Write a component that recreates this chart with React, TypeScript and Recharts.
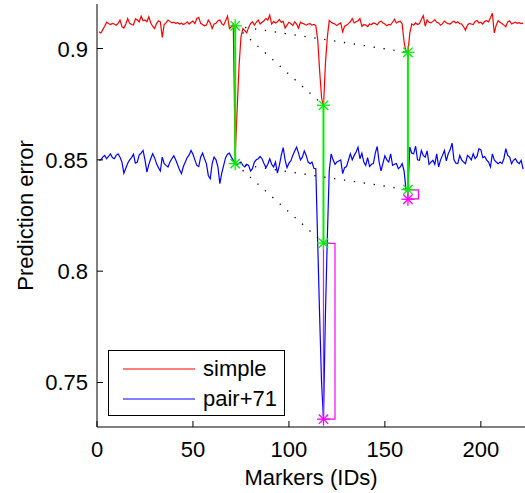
import { ComposedChart, Line, XAxis, YAxis, Legend, Label } from "recharts";

const xTicks = [0, 50, 100, 150, 200];
const yTicks = [0.75, 0.8, 0.85, 0.9];
const seriesNames = ["simple", "pair+71"];

// prediction error per marker ID (1..222)
const simpleError = [
  0.9075, 0.907, 0.9085, 0.91, 0.9118, 0.9112, 0.9108, 0.9113, 0.911, 0.9105,
  0.9113, 0.9128, 0.9098, 0.9092, 0.911, 0.9135, 0.9113, 0.9108, 0.9106, 0.9133,
  0.9128, 0.912, 0.9145, 0.9125, 0.9128, 0.912, 0.9142, 0.9115, 0.91, 0.909,
  0.9112, 0.9125, 0.912, 0.905, 0.9108, 0.9115, 0.9128, 0.9122, 0.9115, 0.9118,
  0.9113, 0.9116, 0.911, 0.9114, 0.9108, 0.9112, 0.912, 0.911, 0.9118, 0.9123,
  0.9112, 0.9135, 0.914, 0.9113, 0.9108, 0.9102, 0.9105, 0.9128, 0.9115, 0.909,
  0.911, 0.9113, 0.9125, 0.9128, 0.9112, 0.9105, 0.9125, 0.9145, 0.909, 0.9098,
  0.9108, 0.852, 0.872, 0.892, 0.905, 0.909, 0.908, 0.907, 0.9095, 0.9112,
  0.912, 0.9105, 0.9118, 0.9128, 0.911, 0.9118, 0.9125, 0.9135, 0.9128, 0.915,
  0.911, 0.9122, 0.9115, 0.912, 0.913, 0.9118, 0.9122, 0.9092, 0.9105, 0.9118,
  0.9112, 0.9103, 0.912, 0.911, 0.9092, 0.9118, 0.9113, 0.911, 0.9105, 0.911,
  0.9112, 0.9105, 0.9108, 0.9103, 0.904, 0.89, 0.878, 0.874, 0.893, 0.905,
  0.9126, 0.9118, 0.9113, 0.911, 0.9103, 0.911, 0.9115, 0.9075, 0.91, 0.9105,
  0.9112, 0.912, 0.9135, 0.9115, 0.912, 0.9125, 0.9135, 0.91, 0.9108, 0.9105,
  0.9098, 0.911, 0.9108, 0.9115, 0.9112, 0.9106, 0.9118, 0.9123, 0.9115, 0.911,
  0.9102, 0.9108, 0.9106, 0.9118, 0.9132, 0.9115, 0.912, 0.9123, 0.911, 0.903,
  0.8985, 0.8983, 0.907, 0.911, 0.9105, 0.9115, 0.9108, 0.9112, 0.913, 0.9148,
  0.91, 0.9128, 0.9118, 0.9115, 0.9122, 0.913, 0.9118, 0.9115, 0.9105, 0.9112,
  0.9123, 0.9116, 0.9112, 0.911, 0.9118, 0.9123, 0.9115, 0.912, 0.9112, 0.911,
  0.9098, 0.9082, 0.9105, 0.9113, 0.911, 0.9108, 0.9122, 0.9126, 0.9115, 0.9118,
  0.911, 0.9122, 0.9125, 0.912, 0.9138, 0.9158, 0.907, 0.9105, 0.9125, 0.9118,
  0.9112, 0.9105, 0.9098, 0.912, 0.9125, 0.911, 0.9115, 0.9118, 0.9113, 0.9116,
  0.9112, 0.9114,
];

const pairError = [
  0.8498, 0.85, 0.8512, 0.852, 0.8505, 0.8515, 0.8527, 0.851, 0.8505, 0.852,
  0.8527, 0.8512, 0.849, 0.844, 0.8462, 0.8485, 0.85, 0.851, 0.8525, 0.8485,
  0.849, 0.8522, 0.853, 0.8542, 0.85, 0.8445, 0.848, 0.8505, 0.8527, 0.851,
  0.8483, 0.8465, 0.845, 0.8512, 0.8483, 0.8475, 0.8468, 0.849, 0.8505, 0.8518,
  0.85, 0.8478, 0.8455, 0.8438, 0.847, 0.849, 0.851, 0.8522, 0.8542, 0.8525,
  0.85, 0.8475, 0.847, 0.8512, 0.853, 0.8505, 0.8483, 0.843, 0.8415, 0.8483,
  0.8512, 0.85, 0.8468, 0.8393, 0.844, 0.8475, 0.851, 0.8525, 0.853, 0.8512,
  0.8498, 0.8483, 0.8478, 0.8485, 0.849, 0.8475, 0.8468, 0.848, 0.8475, 0.845,
  0.846, 0.849, 0.85, 0.8505, 0.8515, 0.8505, 0.8483, 0.8465, 0.848, 0.8505,
  0.848, 0.8468, 0.849, 0.844, 0.8475, 0.852, 0.8555, 0.85, 0.8465, 0.8485,
  0.8495, 0.852, 0.854, 0.8557, 0.853, 0.85, 0.8512, 0.854, 0.852, 0.849,
  0.8483, 0.849, 0.8462, 0.846, 0.8125, 0.78, 0.75, 0.7335, 0.78, 0.815,
  0.845, 0.8527, 0.85, 0.848, 0.849, 0.8495, 0.85, 0.8438, 0.8465, 0.847,
  0.8498, 0.8527, 0.85, 0.852, 0.8535, 0.8557, 0.8505, 0.853, 0.849, 0.8475,
  0.851, 0.847, 0.848, 0.8483, 0.853, 0.856, 0.849, 0.845, 0.8485, 0.8518,
  0.85, 0.849, 0.8527, 0.8475, 0.848, 0.8483, 0.846, 0.8468, 0.8483, 0.845,
  0.8365, 0.8368, 0.8557, 0.853, 0.8527, 0.8562, 0.85, 0.8498, 0.8542, 0.852,
  0.8512, 0.854, 0.848, 0.849, 0.8498, 0.848, 0.8527, 0.8468, 0.85, 0.852,
  0.8542, 0.8495, 0.8527, 0.8545, 0.8575, 0.85, 0.8485, 0.8483, 0.852, 0.85,
  0.849, 0.8483, 0.852, 0.8512, 0.85, 0.8527, 0.8505, 0.8515, 0.855, 0.8545,
  0.851, 0.8515, 0.85, 0.849, 0.8468, 0.8527, 0.85, 0.849, 0.8483, 0.849,
  0.8483, 0.8505, 0.855, 0.852, 0.8512, 0.8483, 0.8498, 0.8505, 0.849, 0.8483,
  0.8498, 0.8458,
];

// marked positions (green) and lowest points (magenta)
const linkIds = [72, 118, 162];
const simpleLinkValues = [0.9102, 0.8745, 0.8983];
const pairLinkValues = [0.8483, 0.8126, 0.8366];
const minIds = [118, 162];
const minValues = [0.7335, 0.8323];
const boxAIds = [118, 124, 124, 118, 118];
const boxAValues = [0.8125, 0.8125, 0.7335, 0.7335, 0.8125];
const boxBIds = [162, 167.5, 167.5, 162, 162];
const boxBValues = [0.8365, 0.8365, 0.8325, 0.8325, 0.8365];

const FONT = "'Liberation Sans', Arial, Helvetica, sans-serif";
const GREEN = "#00f000";
const MAGENTA = "#ff00ff";

const toPoints = (xs: number[], ys: number[]) => xs.map((x, i) => ({ x, y: ys[i] }));

const simpleRows = toPoints(simpleError.map((_, i) => i + 1), simpleError);
const pairRows = toPoints(pairError.map((_, i) => i + 1), pairError);
const greenStars = [...toPoints(linkIds, simpleLinkValues), ...toPoints(linkIds, pairLinkValues)];
const greenLinks = linkIds.map((id, i) => [
  { x: id, y: simpleLinkValues[i] },
  { x: id, y: pairLinkValues[i] },
]);
const dottedLinks = [simpleLinkValues, pairLinkValues].flatMap((vals) =>
  [1, 2].map((k) => [
    { x: linkIds[0], y: vals[0] },
    { x: linkIds[k], y: vals[k] },
  ])
);
const minStars = toPoints(minIds, minValues);
const boxA = toPoints(boxAIds, boxAValues);
const boxB = toPoints(boxBIds, boxBValues);

function Asterisk({ cx, cy, color }: { cx: number; cy: number; color: string }) {
  const r = 6.5;
  const d = r * 0.72;
  return (
    <g stroke={color} strokeWidth={1.3}>
      <line x1={cx - r} x2={cx + r} y1={cy} y2={cy} />
      <line x1={cx} x2={cx} y1={cy - r} y2={cy + r} />
      <line x1={cx - d} x2={cx + d} y1={cy - d} y2={cy + d} />
      <line x1={cx - d} x2={cx + d} y1={cy + d} y2={cy - d} />
    </g>
  );
}

function XTick({ x, y, payload }: any) {
  return (
    <g>
      <line x1={x} x2={x} y1={y - 10} y2={y - 16} stroke="#000" />
      <text x={x} y={y + 20} textAnchor="middle" fontSize={22} fontFamily={FONT} fill="#000">
        {payload.value}
      </text>
    </g>
  );
}

function YTick({ x, y, payload }: any) {
  return (
    <g>
      <line x1={x + 9} x2={x + 15} y1={y} y2={y} stroke="#000" />
      <text x={x} y={y + 8} textAnchor="end" fontSize={22} fontFamily={FONT} fill="#000">
        {payload.value}
      </text>
    </g>
  );
}

function YTitle({ viewBox }: any) {
  const cx = 25;
  const cy = viewBox.y + viewBox.height / 2;
  return (
    <text
      x={cx}
      y={cy}
      transform={`rotate(-90, ${cx}, ${cy})`}
      textAnchor="middle"
      dominantBaseline="central"
      fontSize={22}
      fontFamily={FONT}
      fill="#000"
    >
      Prediction error
    </text>
  );
}

function LegendBox({ payload }: any) {
  const items = (payload || [])
    .filter((entry: any) => seriesNames.includes(entry.value))
    .sort((a: any, b: any) => seriesNames.indexOf(a.value) - seriesNames.indexOf(b.value));
  return (
    <div
      style={{
        width: 177,
        height: 66,
        boxSizing: "border-box",
        border: "1px solid #000",
        background: "#fff",
        paddingTop: 3,
        fontFamily: FONT,
        fontSize: 22,
        color: "#000",
      }}
    >
      {items.map((entry: any) => (
        <div key={entry.value} style={{ display: "flex", alignItems: "center", height: 30 }}>
          <svg width={94} height={30} style={{ flex: "none" }}>
            <line x1={14} x2={86} y1={15} y2={15} stroke={entry.color} strokeWidth={1.2} />
          </svg>
          <span style={{ lineHeight: "30px" }}>{entry.value}</span>
        </div>
      ))}
    </div>
  );
}

export default function App() {
  return (
    <div
      style={{
        position: "absolute",
        left: 0,
        top: 0,
        width: 525,
        height: 493,
        overflow: "hidden",
        background: "#fff",
      }}
    >
      <ComposedChart width={525} height={493} margin={{ top: 4, right: 0, bottom: 0, left: 0 }}>
        <XAxis
          type="number"
          dataKey="x"
          domain={[0, 223]}
          allowDataOverflow
          ticks={xTicks}
          tickSize={0}
          tickMargin={10}
          tick={<XTick />}
          height={66}
          stroke="#000"
          axisLine={{ stroke: "#000" }}
        >
          <Label
            value="Markers (IDs)"
            position="insideBottom"
            offset={8}
            style={{ fontSize: 22, fontFamily: FONT, fill: "#000" }}
          />
        </XAxis>
        <YAxis
          type="number"
          dataKey="y"
          domain={[0.73, 0.92]}
          allowDataOverflow
          ticks={yTicks}
          tickSize={0}
          tickMargin={9}
          tick={<YTick />}
          width={97}
          stroke="#000"
          axisLine={{ stroke: "#000" }}
        >
          <Label content={<YTitle />} />
        </YAxis>
        <Legend
          layout="horizontal"
          verticalAlign="middle"
          align="center"
          wrapperStyle={{ left: 108, top: 350, width: 177, height: 66 }}
          content={<LegendBox />}
        />
        <Line
          data={simpleRows}
          dataKey="y"
          name="simple"
          stroke="#ff0000"
          strokeWidth={1.2}
          dot={false}
          activeDot={false}
          isAnimationActive={false}
        />
        <Line
          data={pairRows}
          dataKey="y"
          name="pair+71"
          stroke="#0000ff"
          strokeWidth={1.2}
          dot={false}
          activeDot={false}
          isAnimationActive={false}
        />
        {greenLinks.map((seg, i) => (
          <Line
            key={`g${i}`}
            data={seg}
            dataKey="y"
            stroke={GREEN}
            strokeWidth={2}
            dot={false}
            activeDot={false}
            legendType="none"
            isAnimationActive={false}
          />
        ))}
        {dottedLinks.map((seg, i) => (
          <Line
            key={`d${i}`}
            data={seg}
            dataKey="y"
            stroke="#000"
            strokeWidth={1.3}
            strokeDasharray="1.3 8.7"
            dot={false}
            activeDot={false}
            legendType="none"
            isAnimationActive={false}
          />
        ))}
        <Line
          data={boxA}
          dataKey="y"
          stroke={MAGENTA}
          strokeWidth={1.2}
          dot={false}
          activeDot={false}
          legendType="none"
          isAnimationActive={false}
        />
        <Line
          data={boxB}
          dataKey="y"
          stroke={MAGENTA}
          strokeWidth={1.2}
          dot={false}
          activeDot={false}
          legendType="none"
          isAnimationActive={false}
        />
        <Line
          data={greenStars}
          dataKey="y"
          stroke="none"
          dot={(p: any) => <Asterisk key={`gs${p.index}`} cx={p.cx} cy={p.cy} color={GREEN} />}
          activeDot={false}
          legendType="none"
          isAnimationActive={false}
        />
        <Line
          data={minStars}
          dataKey="y"
          stroke="none"
          dot={(p: any) => <Asterisk key={`ms${p.index}`} cx={p.cx} cy={p.cy} color={MAGENTA} />}
          activeDot={false}
          legendType="none"
          isAnimationActive={false}
        />
      </ComposedChart>
    </div>
  );
}
